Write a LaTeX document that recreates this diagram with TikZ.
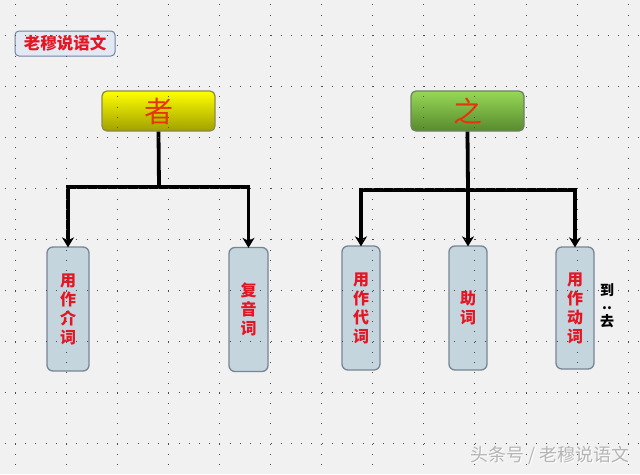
\documentclass[tikz,border=0pt]{standalone}
\usepackage{fontspec}
\newfontfamily\cjk{Noto Sans CJK SC}
\usetikzlibrary{arrows.meta}
\definecolor{bg}{RGB}{241,241,241}
\definecolor{griddotc}{RGB}{75,75,75}
\definecolor{labred}{RGB}{228,22,36}
\definecolor{headred}{RGB}{232,52,12}
\definecolor{yeltop}{RGB}{255,255,0}
\definecolor{yelmid}{RGB}{238,238,0}
\definecolor{yelbot}{RGB}{160,160,0}
\definecolor{yelline}{RGB}{140,140,70}
\definecolor{grntop}{RGB}{150,216,86}
\definecolor{grnmid}{RGB}{128,192,70}
\definecolor{grnbot}{RGB}{88,138,46}
\definecolor{grnline}{RGB}{110,128,100}
\definecolor{boxfill}{RGB}{197,213,222}
\definecolor{boxline}{RGB}{120,134,148}
\definecolor{tagfill}{RGB}{226,233,242}
\definecolor{tagline}{RGB}{110,130,165}
\definecolor{wmark}{RGB}{180,180,180}
\begin{document}
\begin{tikzpicture}[x=1pt,y=-1pt,
  tagbox/.style={draw=tagline, line width=1pt, fill=tagfill, rounded corners=4pt,
    minimum width=100pt, minimum height=25pt, inner sep=0pt,
    font=\cjk\bfseries\fontsize{16.5}{18}\selectfont, text=labred},
  headbox/.style={line width=1.3pt, rounded corners=5pt,
    minimum width=113pt, minimum height=40pt, inner sep=0pt,
    font=\cjk\fontsize{29}{31}\selectfont, text=headred},
  yelbox/.style={headbox, draw=yelline, top color=yeltop, middle color=yelmid, bottom color=yelbot},
  grnbox/.style={headbox, draw=grnline, top color=grntop, middle color=grnmid, bottom color=grnbot},
  vbox/.style={draw=boxline, line width=1.3pt, fill=boxfill, rounded corners=6pt,
    minimum width=39pt, minimum height=124pt, inner sep=0pt, align=center,
    font=\cjk\bfseries\fontsize{16}{19}\selectfont, text=labred},
  conn/.style={line width=3.8pt, draw=black, line join=miter},
  arr/.style={-{Stealth[length=10pt,width=12pt,inset=3pt]}},
  griddot/.style={draw=griddotc, line width=0.9pt, dash pattern=on 0.9pt off 9.32pt}
]
\fill[bg] (0,0) rectangle (640,474);
\useasboundingbox (0,0) rectangle (640,474);

% title tag
\node[tagbox] (tag) at (65,43.5) {老穆说语文};

% head nodes
\node[yelbox] (zhe) at (158.5,111) {者};
\node[grnbox] (zhi) at (467.5,111) {之};

% bottom nodes
\node[vbox, minimum width=42pt] (n1) at (68,309) {用\\作\\介\\词};
\node[vbox] (n2) at (248.5,309.5) {复\\音\\词};
\node[vbox, minimum width=38pt] (n3) at (361,308) {用\\作\\代\\词};
\node[vbox, minimum width=38pt] (n4) at (468,308) {助\\词};
\node[vbox, minimum width=38pt, minimum height=122pt] (n5) at (575,308) {用\\作\\动\\词};

% side note
\node[font=\cjk\bfseries\fontsize{14}{16}\selectfont, align=center, inner sep=0pt] (note) at (607,306) {到\\[-2pt]..\\[1pt]去};

% connectors
\coordinate (ja) at (159,187);
\coordinate (jb) at (468,190);
\draw[conn] (zhe.south) -- (ja);
\draw[conn,arr] (ja) -| ([yshift=-1pt]n1.north);
\draw[conn,arr] (ja) -| ([yshift=-1pt]n2.north);
\draw[conn] (zhi.south) -- (jb);
\draw[conn,arr] (jb) -| ([yshift=-1pt]n3.north);
\draw[conn,arr] (jb) -- ([yshift=-1pt]n4.north);
\draw[conn,arr] (jb) -| ([yshift=-1pt]n5.north);

% grid of dots
\foreach \k in {0,...,12}
  \draw[griddot] ({15+51.1*\k},4.4) -- ({15+51.1*\k},474);
\foreach \k in {0,...,8}
  \draw[griddot] (4.8,{35+51*\k}) -- (640,{35+51*\k});

% watermark
\node[anchor=east, font=\cjk\fontsize{18}{20}\selectfont, text=white, inner sep=0pt] (wms) at (631,456) {头条号 / 老穆说语文};
\node[anchor=east, font=\cjk\fontsize{18}{20}\selectfont, text=wmark, inner sep=0pt] (wm) at (630,455) {头条号 / 老穆说语文};
\end{tikzpicture}
\end{document}
